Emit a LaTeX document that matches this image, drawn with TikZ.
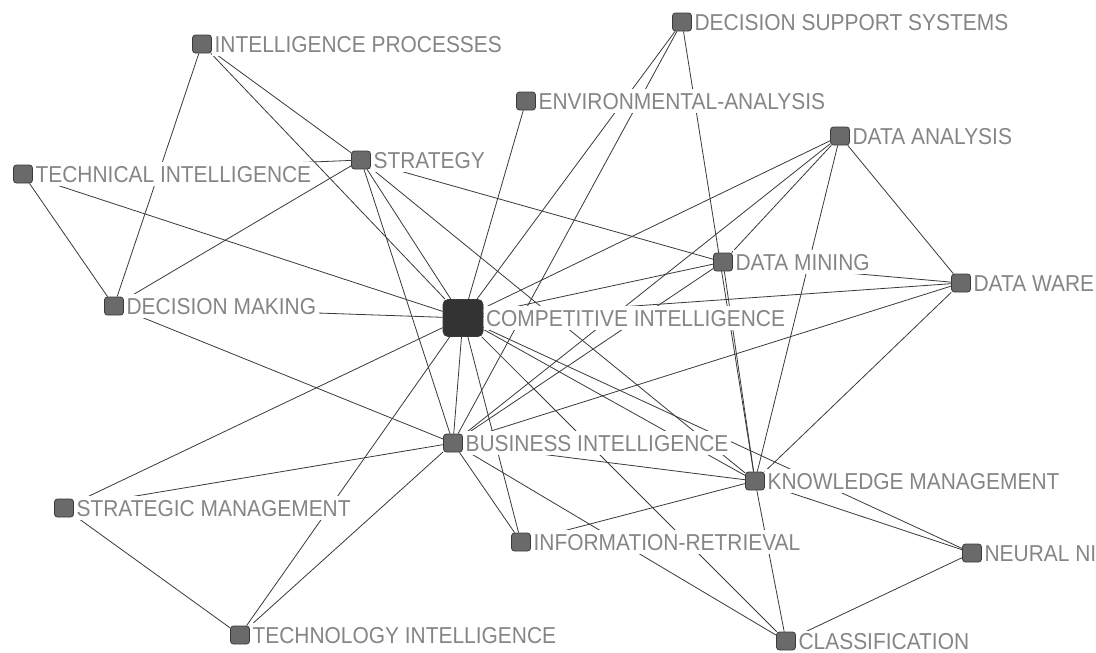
\documentclass[tikz,border=0pt]{standalone}
\usepackage{fontspec}
\newfontfamily\lblfont{Liberation Sans}[FakeStretch=0.91]
\definecolor{boxfill}{HTML}{6A6A6A}
\definecolor{bigfill}{HTML}{333333}
\definecolor{boxline}{HTML}{3A3A3A}
\definecolor{edgecol}{HTML}{3A3A3A}
\definecolor{lblgray}{HTML}{858585}
\pgfdeclarelayer{paper}
\pgfdeclarelayer{bg}
\pgfsetlayers{paper,bg,main}
\begin{document}
\begin{tikzpicture}[x=1pt,y=-1pt,
  box/.style={draw=boxline, fill=boxfill, rounded corners=3pt, minimum width=19pt, minimum height=18pt, inner sep=0pt, line width=0.8pt},
  bigbox/.style={box, fill=bigfill, minimum width=40pt, minimum height=37pt, rounded corners=5pt},
  lbl/.style={anchor=west, fill=white, text=lblgray, font=\lblfont\fontsize{23}{23}\selectfont, text height=16.5pt, text depth=0pt, inner xsep=2.5pt, inner ysep=4pt},
  edge/.style={draw=edgecol, line width=0.8pt}]
\useasboundingbox (0,0) rectangle (1096,653);
\begin{pgfonlayer}{paper}
\fill[white] (0,0) rectangle (1096,653);
\end{pgfonlayer}
\clip (0,0) rectangle (1096,653);
% nodes
\node[box] (ip) at (202,44) {};
\node[box] (dss) at (682,22) {};
\node[box] (ea) at (526,101) {};
\node[box] (da) at (840,136) {};
\node[box] (st) at (361,160) {};
\node[box] (ti) at (23,174) {};
\node[box] (dm) at (723,262) {};
\node[box] (dw) at (961,283) {};
\node[box] (dmk) at (114,306) {};
\node[bigbox] (ci) at (463,318) {};
\node[box] (bi) at (453,443) {};
\node[box] (km) at (755,481) {};
\node[box] (sm) at (64,508) {};
\node[box] (ir) at (521,542) {};
\node[box] (nn) at (972,553) {};
\node[box] (tei) at (240,635) {};
\node[box] (cl) at (786,641) {};
% labels
\node[lbl] (ipl) at (ip.east) {INTELLIGENCE PROCESSES};
\node[lbl] (dssl) at (dss.east) {DECISION SUPPORT SYSTEMS};
\node[lbl] (eal) at (ea.east) {ENVIRONMENTAL-ANALYSIS};
\node[lbl] (dal) at (da.east) {DATA ANALYSIS};
\node[lbl] (stl) at (st.east) {STRATEGY};
\node[lbl] (til) at (ti.east) {TECHNICAL INTELLIGENCE};
\node[lbl] (dml) at (dm.east) {DATA MINING};
\node[lbl] (dwl) at (dw.east) {DATA WARE};
\node[lbl] (dmkl) at (dmk.east) {DECISION MAKING};
\node[lbl] (cil) at (ci.east) {COMPETITIVE INTELLIGENCE};
\node[lbl] (bil) at (bi.east) {BUSINESS INTELLIGENCE};
\node[lbl] (kml) at (km.east) {KNOWLEDGE MANAGEMENT};
\node[lbl] (sml) at (sm.east) {STRATEGIC MANAGEMENT};
\node[lbl] (irl) at (ir.east) {INFORMATION-RETRIEVAL};
\node[lbl] (nnl) at (nn.east) {NEURAL NI};
\node[lbl] (teil) at (tei.east) {TECHNOLOGY INTELLIGENCE};
\node[lbl, inner ysep=2pt] (cll) at (cl.east) {CLASSIFICATION};
% edges
\begin{pgfonlayer}{bg}
\foreach \a/\b in {ip/dmk, ip/st, ip/ci, ti/st, ti/dmk, ti/ci, st/dmk, st/ci, st/bi, st/km, st/dm,
  dmk/ci, dmk/bi, ea/ci, dss/ci, dss/bi, dss/km, da/ci, da/bi, da/dm, da/km, da/dw,
  dm/ci, dm/bi, dm/dw, dm/km, dw/ci, dw/bi, dw/km, ci/bi, ci/ir, ci/km, ci/nn, ci/cl, ci/sm, ci/tei,
  bi/sm, bi/tei, bi/ir, bi/km, bi/cl, sm/tei, km/ir, km/nn, km/cl, nn/cl}
  \draw[edge] (\a) -- (\b);
\end{pgfonlayer}
\end{tikzpicture}
\end{document}
